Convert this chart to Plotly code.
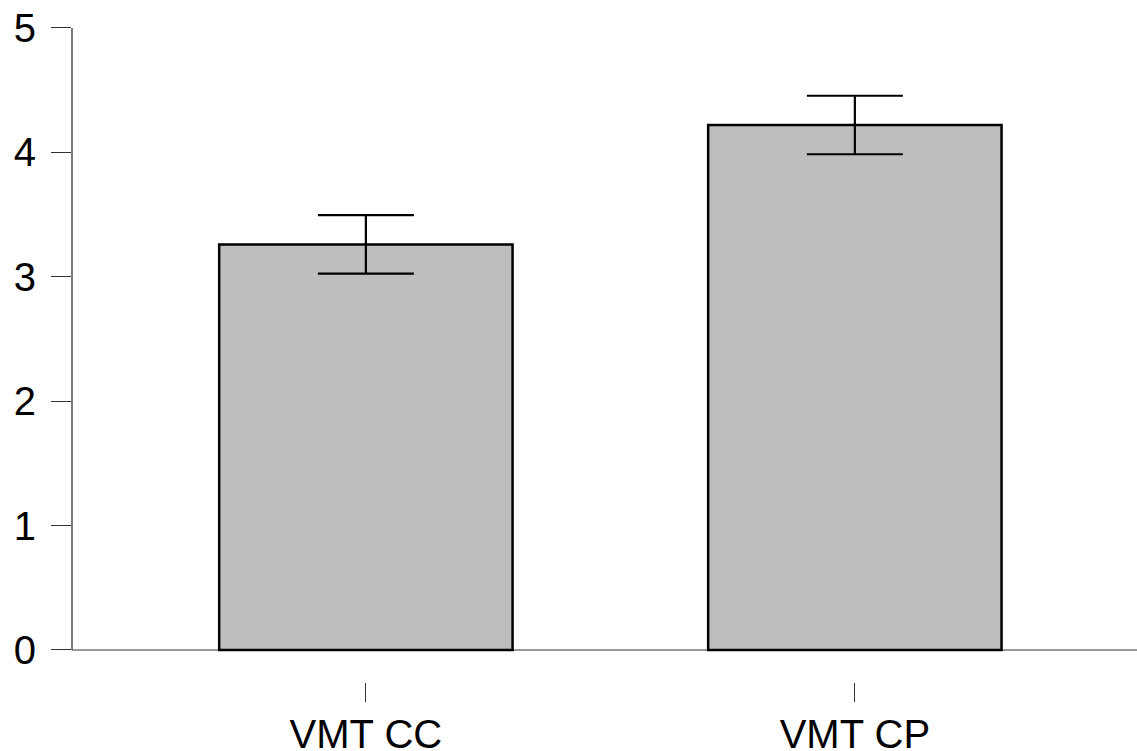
import plotly.graph_objects as go

categories = ["VMT CC", "VMT CP"]
means = [3.26, 4.22]
err_plus = [0.235, 0.235]
err_minus = [0.235, 0.235]
y_ticks = [0, 1, 2, 3, 4, 5]

xpos = list(range(len(categories)))

fig = go.Figure()
fig.add_trace(go.Bar(
    x=xpos, y=means, width=0.6,
    marker=dict(color="#BEBEBE", line=dict(color="black", width=2.5)),
    error_y=dict(type="data", symmetric=False, array=err_plus, arrayminus=err_minus,
                 color="black", thickness=2.2, width=48),
))

fig.add_shape(type="line", xref="paper", yref="y", x0=0, x1=0, y0=0, y1=5,
              line=dict(color="#333333", width=1.3))

fig.update_layout(
    width=1137, height=751,
    margin=dict(l=72, r=0, t=20, b=69),
    plot_bgcolor="white", paper_bgcolor="white",
    showlegend=False,
    font=dict(family="Liberation Sans, Arial, sans-serif", size=40, color="black"),
    xaxis=dict(range=[-0.601, 1.577], tickvals=xpos, ticktext=categories,
               showgrid=False, zeroline=False, showline=False, automargin=False,
               ticks="outside", ticklen=19, tickwidth=1.2, tickcolor="#333333",
               ticklabelstandoff=-2),
    yaxis=dict(range=[-0.2575, 5.064], tickvals=y_ticks, automargin=False,
               showgrid=False, showline=False,
               zeroline=True, zerolinecolor="#999999", zerolinewidth=1.5,
               ticks="outside", ticklen=20, tickwidth=1.3, tickcolor="#333333",
               ticklabelstandoff=7),
)

fig.write_html("out.html", config={"displayModeBar": False},
               post_script="document.body.style.margin='0px';document.body.style.overflow='hidden';")
